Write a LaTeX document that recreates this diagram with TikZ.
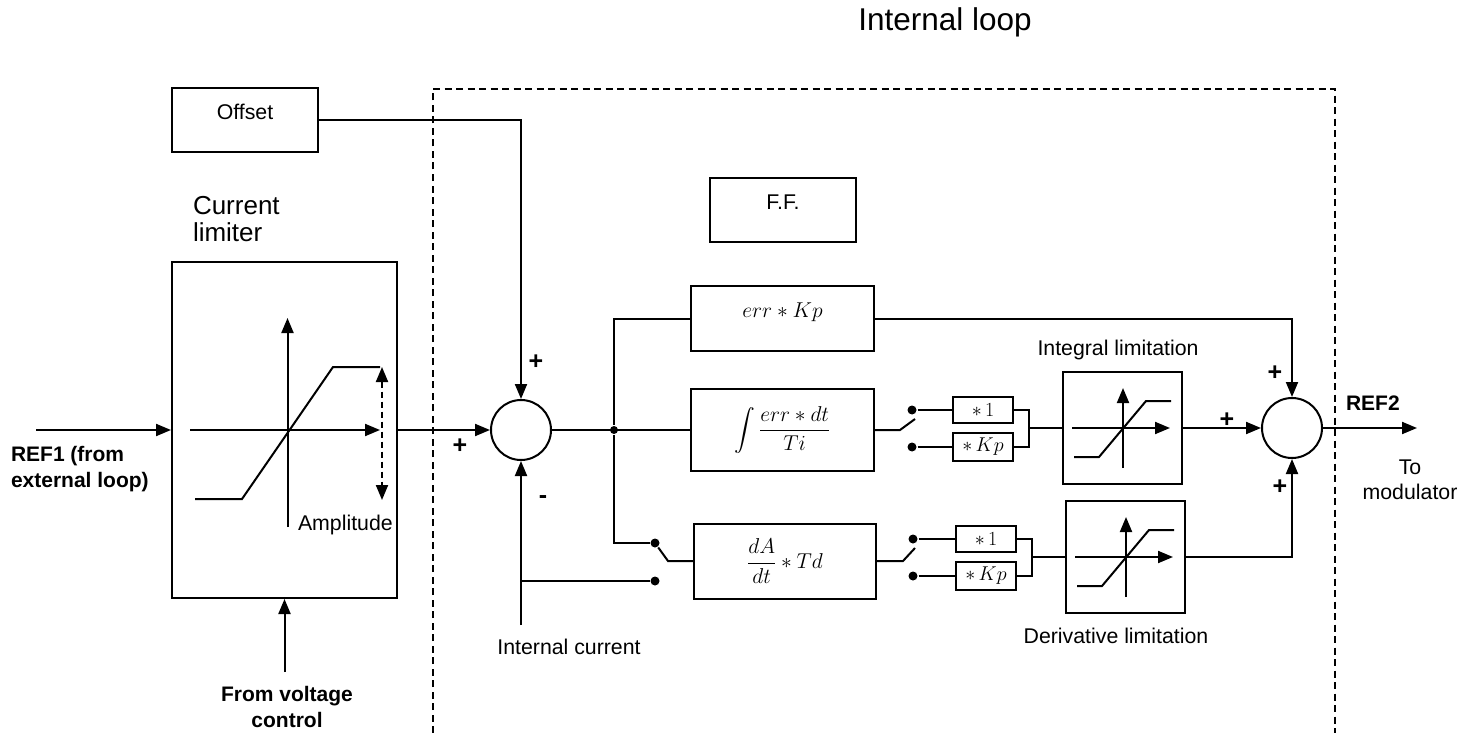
\RequirePackage{fix-cm}
\documentclass[tikz,border=0pt]{standalone}
\usepackage{amsmath}
\usepackage{fontspec}
\setmainfont{Liberation Sans}
\usetikzlibrary{arrows.meta, positioning}

\begin{document}
\begin{tikzpicture}[x=1pt, y=-1pt, line width=2pt,
    >={Triangle[length=15pt, width=12pt]},
    txt/.style={font=\fontsize{21.3}{25}\selectfont, inner sep=0pt},
    boldtxt/.style={font=\fontsize{21}{26}\selectfont\bfseries, inner sep=0pt},
    sign/.style={font=\fontsize{25}{25}\selectfont\bfseries, inner sep=0pt},
    block/.style={draw, inner sep=0pt, font=\fontsize{21.5}{25}\selectfont},
    gain/.style={draw, inner sep=0pt, minimum width=60pt, font=\fontsize{20}{22}\selectfont},
    limbox/.style={draw, inner sep=0pt, minimum width=119pt, minimum height=112pt},
    summer/.style={draw, circle, inner sep=0pt, minimum size=60pt},
    contact/.style={fill, circle, inner sep=0pt, minimum size=9pt},
    region/.style={dash pattern=on 7pt off 4.5pt}]
    \useasboundingbox (0,0) rectangle (1472,733);

    % Internal loop region
    \draw[region] (433,733) -- (433,89) -- (1335,89) -- (1335,733);
    \node[txt, font=\fontsize{31.5}{36}\selectfont] (title) at (945,22) {Internal loop};

    % Current limiter
    \node[block, minimum width=146pt, minimum height=64pt] (offset) at (245,120) {};
    \node[txt] (offsetlbl) at (245,112) {Offset};
    \node[txt, font=\fontsize{26}{27}\selectfont, align=left, anchor=north west] (limtitle) at (192,195) {Current\\limiter};
    \node[block, minimum width=225pt, minimum height=336pt] (limiter) at (284.5,430) {};
    \draw[->] (190,430) -- (380,430);
    \draw[->] (287.5,527) -- (287.5,318);
    \draw (195,499) -- (242,499) -- (333,367) -- (380,367);
    \draw[<->, dash pattern=on 6pt off 4pt] (382,367) -- (382,500);
    \node[txt, anchor=base west] (amplbl) at (297,530) {Amplitude};

    % Controller blocks
    \node[summer] (sum1) at (521,430) {};
    \node[block, minimum width=146pt, minimum height=64pt] (ff) at (783,210) {};
    \node[txt] (fflbl) at (783,202) {F.F.};
    \node[block, minimum width=183pt, minimum height=65pt] (kp) at (782.5,318.5) {};
    \node[block, draw=none] (kplbl) at (782.5,312) {$err\ast Kp$};
    \node[block, minimum width=183pt, minimum height=82pt] (integ) at (782.5,430) {$\displaystyle\int\frac{err\ast dt}{Ti}$};
    \node[block, minimum width=182pt, minimum height=75pt] (deriv) at (785,561) {$\dfrac{dA}{dt}\ast Td$};

    % Switch contacts and gains
    \node[contact, minimum size=8pt] (split) at (614,430) {};
    \node[contact] (dsw1) at (655,543) {};
    \node[contact] (dsw2) at (655,581) {};
    \node[contact] (isw1) at (912,410) {};
    \node[contact] (isw2) at (912,447) {};
    \node[contact] (dsw3) at (913,539) {};
    \node[contact] (dsw4) at (913,576) {};
    \node[gain, minimum height=26pt] (ione) at (983,410) {$\ast\,1$};
    \node[gain, minimum height=28pt] (ikp) at (983,447) {$\ast\,Kp$};
    \node[gain, minimum height=26pt] (done) at (986,539) {$\ast\,1$};
    \node[gain, minimum height=28pt] (dkp) at (986,576) {$\ast\,Kp$};

    % Limitations
    \node[limbox] (intlim) at (1122.5,428) {};
    \node[limbox] (dlim) at (1125.5,557) {};
    \foreach \lmt in {intlim, dlim} {
        \begin{scope}[shift={(\lmt.center)}]
            \draw[->] (-50.5,0) -- (47.5,0);
            \draw[->] (0.5,40) -- (0.5,-40);
            \draw (-48.5,29) -- (-23.5,29) -- (23.5,-27) -- (48.5,-27);
        \end{scope}
    }
    \node[txt] (intlimlbl) at (1118,350) {Integral limitation};
    \node[txt] (dlimlbl) at (1116,636) {Derivative limitation};
    \node[summer] (sum2) at (1292,428) {};

    % Signals
    \coordinate (refin) at (36,430);
    \coordinate (vin) at (284.5,672);
    \coordinate (ifb) at (521,625);
    \draw[->] (refin) -- (limiter.west);
    \draw[->] (vin) -- (limiter.south);
    \draw[->] (limiter.east) -- (sum1.west);
    \draw[->] (offset.east) -| (sum1.north);
    \draw[->] (ifb) -- (sum1.south);
    \draw (ifb |- dsw2) -- (dsw2);
    \draw (sum1.east) -- (integ.west);
    \draw (split) |- (kp.west);
    \draw (split) |- (dsw1);
    \coordinate (dblade) at (668,561);
    \draw (dsw1) -- (dblade) -- (deriv.west);

    % Outputs of integral and derivative parts
    \coordinate (iblade) at (915,419);
    \coordinate (dblade2) at (915,548);
    \draw (integ.east) -- ++(25,0) -- (iblade);
    \draw (deriv.east) -- ++(26,0) -- (dblade2);
    \draw (isw1) -- (ione.west);
    \draw (isw2) -- (ikp.west);
    \draw (dsw3) -- (done.west);
    \draw (dsw4) -- (dkp.west);
    \coordinate (ijoin) at (1029,428);
    \coordinate (djoin) at (1032,557);
    \draw (ione.east) -| (ijoin) |- (ikp.east);
    \draw (done.east) -| (djoin) |- (dkp.east);
    \draw (ijoin) -- (intlim.west);
    \draw (djoin) -- (dlim.west);
    \draw[->] (intlim.east) -- (sum2.west);
    \draw[->] (kp.east) -| (sum2.north);
    \draw[->] (dlim.east) -| (sum2.south);
    \coordinate (refout) at (1417,428);
    \draw[->] (sum2.east) -- (refout);

    % Annotations
    \node[sign] (plusa) at (460,446) {+};
    \node[sign] (plusb) at (536,362) {+};
    \node[sign] (minus) at (543,500) {-};
    \node[sign] (plusc) at (1227,420) {+};
    \node[sign] (plusd) at (1275,373) {+};
    \node[sign] (pluse) at (1280,487) {+};
    \node[boldtxt, align=left, anchor=north west] (reflbl) at (10,445) {REF1 (from\\external loop)};
    \node[boldtxt, align=center, anchor=north] (vlbl) at (287,685) {From voltage\\control};
    \node[txt] (ilbl) at (569,647) {Internal current};
    \node[boldtxt, anchor=base west] (ref2lbl) at (1345,410) {REF2};
    \node[txt, align=center, anchor=north] (modlbl) at (1410,459) {To\\modulator};
\end{tikzpicture}
\end{document}
